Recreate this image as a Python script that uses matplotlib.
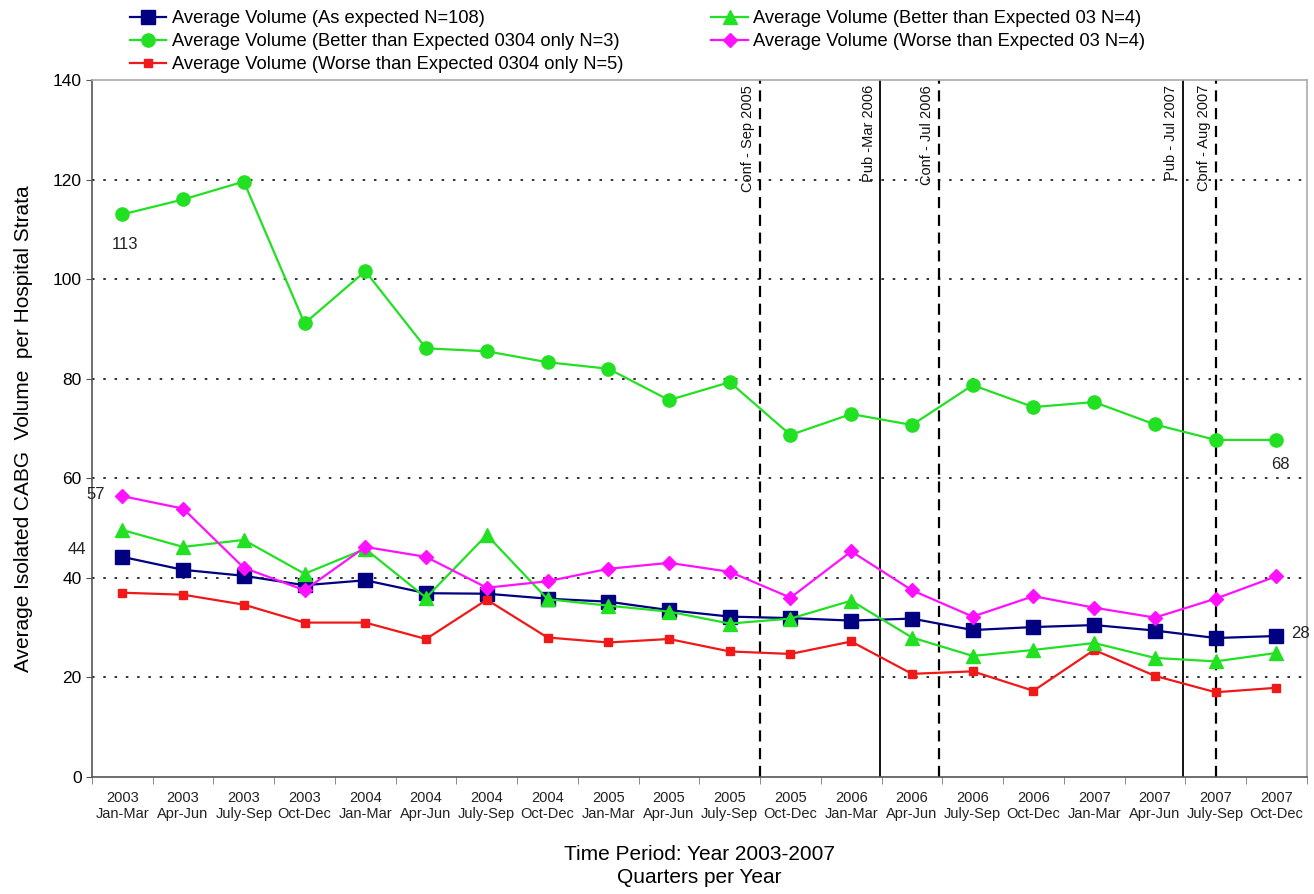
import matplotlib
matplotlib.use("Agg")
import matplotlib.pyplot as plt
import numpy as np

# quarters 2003-2007
years = ['2003'] * 4 + ['2004'] * 4 + ['2005'] * 4 + ['2006'] * 4 + ['2007'] * 4
quarters = ['Jan-Mar', 'Apr-Jun', 'July-Sep', 'Oct-Dec'] * 5

as_expected = [44.2, 41.6, 40.4, 38.5, 39.5, 36.9, 36.8, 35.8, 35.2, 33.5,
               32.2, 31.9, 31.4, 31.8, 29.5, 30.1, 30.5, 29.4, 27.9, 28.3]
better_03 = [49.6, 46.2, 47.6, 40.8, 45.8, 36.0, 48.6, 35.7, 34.4, 33.2,
             30.8, 31.8, 35.4, 28.0, 24.3, 25.5, 26.9, 23.9, 23.2, 24.9]
better_0304 = [113.0, 116.0, 119.6, 91.1, 101.6, 86.1, 85.5, 83.3, 82.0, 75.7,
               79.3, 68.7, 72.9, 70.7, 78.7, 74.3, 75.3, 70.8, 67.7, 67.7]
worse_03 = [56.4, 53.9, 42.0, 37.5, 46.2, 44.2, 38.0, 39.3, 41.8, 43.0,
            41.2, 36.0, 45.3, 37.5, 32.2, 36.3, 34.0, 32.0, 35.8, 40.3]
worse_0304 = [37.0, 36.6, 34.6, 31.0, 31.0, 27.7, 35.6, 28.0, 27.0, 27.7,
              25.2, 24.7, 27.2, 20.7, 21.2, 17.3, 25.5, 20.3, 17.0, 17.9]

# events (position between quarter indices)
event_labels = ['Conf - Sep 2005', 'Pub -Mar 2006', 'Conf - Jul 2006', 'Pub - Jul 2007', 'Conf - Aug 2007']
event_pos = [10.49, 12.48, 13.45, 17.46, 18.0]
event_style = ['--', '-', '--', '-', '--']

plt.rcParams['font.family'] = ['Liberation Sans', 'DejaVu Sans']

fig = plt.figure(figsize=(13.14, 8.94), dpi=100)
ax = fig.add_axes([0.070, 0.131, 0.9245, 0.7795])

x = np.arange(len(quarters))
l1, = ax.plot(x, as_expected, color='#000080', marker='s', ms=10, lw=1.6,
              label='Average Volume (As expected N=108)')
l2, = ax.plot(x, better_0304, color='#22e022', marker='o', ms=9.5, lw=1.6,
              label='Average Volume (Better than Expected 0304 only N=3)')
l3, = ax.plot(x, worse_0304, color='#f01818', marker='s', ms=5.5, lw=1.6,
              label='Average Volume (Worse than Expected 0304 only N=5)')
l4, = ax.plot(x, better_03, color='#22e022', marker='^', ms=9.5, lw=1.6,
              label='Average Volume (Better than Expected 03 N=4)')
l5, = ax.plot(x, worse_03, color='#ff11ff', marker='D', ms=7.5, lw=1.6,
              label='Average Volume (Worse than Expected 03 N=4)')

for y in [20, 40, 60, 80, 100, 120]:
    ax.axhline(y, color='#333333', lw=1.4, ls=(0, (1.3, 4.5)), zorder=0)

for lab, pos, st in zip(event_labels, event_pos, event_style):
    if st == '--':
        ax.axvline(pos, color='black', lw=1.6, ls=(0, (5, 3)), zorder=1)
    else:
        ax.axvline(pos, color='black', lw=1.3, ls='-', zorder=1)
    ax.text(pos - 0.08, 139, lab, rotation=90, ha='right', va='top',
            fontsize=10.5, color='#111111')

ax.annotate('113', (0, better_0304[0]), xytext=(2, -22), textcoords='offset points',
            ha='center', va='center', fontsize=12, color='#222222')
ax.annotate('57', (0, worse_03[0]), xytext=(-19, 1), textcoords='offset points',
            ha='center', va='center', fontsize=12, color='#222222')
ax.annotate('44', (0, as_expected[0]), xytext=(-33, 5), textcoords='offset points',
            ha='center', va='center', fontsize=12, color='#222222')
ax.annotate('68', (19, better_0304[19]), xytext=(3, -18), textcoords='offset points',
            ha='center', va='center', fontsize=12, color='#222222')
ax.annotate('28', (19, as_expected[19]), xytext=(17, 2), textcoords='offset points',
            ha='center', va='center', fontsize=12, color='#222222')

ax.set_xlim(-0.5, 19.5)
ax.set_ylim(0, 140)
ax.set_yticks(range(0, 141, 20))
ax.tick_params(axis='y', labelsize=12.5, length=4, color='#555555')
ax.set_xticks(x)
ax.set_xticklabels([f'{y}\n{q}' for y, q in zip(years, quarters)], fontsize=10.5,
                   color='#222222')
ax.set_xticks(np.arange(-0.5, 20, 1), minor=True)
ax.tick_params(axis='x', which='major', length=0, pad=10)
ax.tick_params(axis='x', which='minor', length=5, color='#777777')

for s in ['top', 'right']:
    ax.spines[s].set_color('#aaaaaa')
ax.spines['left'].set_color('#555555')
ax.spines['bottom'].set_color('#555555')
for s in ax.spines.values():
    s.set_linewidth(1.2)

ax.set_ylabel('Average Isolated CABG  Volume  per Hospital Strata', fontsize=15, labelpad=14)
ax.set_xlabel('Time Period: Year 2003-2007\nQuarters per Year', fontsize=15, labelpad=17,
              linespacing=1.3)

leg = fig.legend(handles=[l1, l2, l3, l4, l5], ncol=2, loc='upper left',
                 bbox_to_anchor=(0.086, 1.007), frameon=False,
                 prop={'size': 13.2}, handlelength=2.0,
                 handletextpad=0.3, columnspacing=4.8, labelspacing=0.32)

fig.savefig('out.png', dpi=100)
